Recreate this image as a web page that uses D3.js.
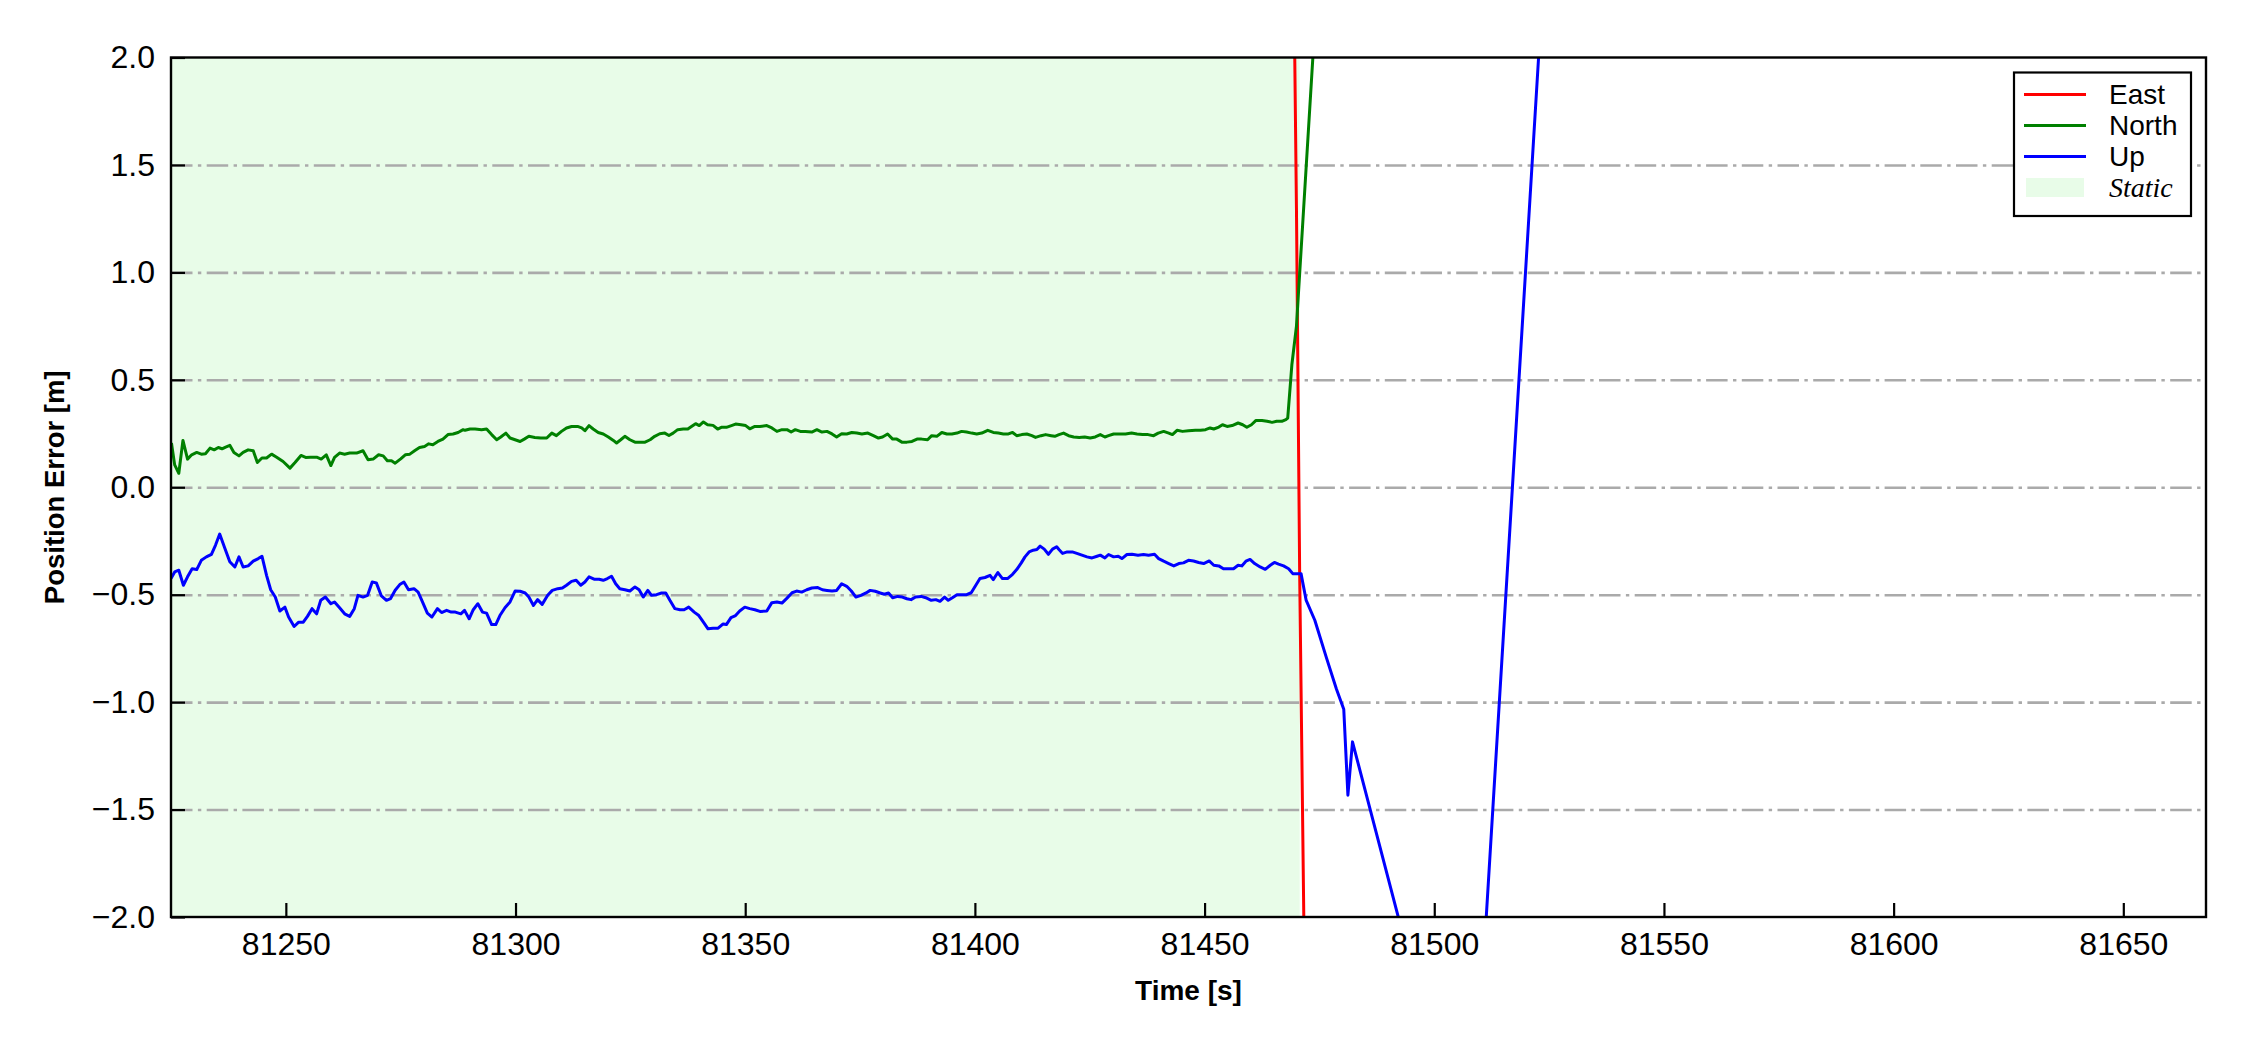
<!DOCTYPE html>
<html>
<head>
<meta charset="utf-8">
<script src="https://cdn.jsdelivr.net/npm/d3@7"></script>
<style>
  html, body { margin: 0; padding: 0; background: #ffffff; }
  svg { display: block; }
</style>
</head>
<body>
<svg id="chart" width="2250" height="1050"></svg>
<script>
// ---------------- DATA ----------------
const xDomain = [81225, 81668];
const yDomain = [-2.0, 2.0];
const xTicks = [81250, 81300, 81350, 81400, 81450, 81500, 81550, 81600, 81650];
const yTicks = [-2.0, -1.5, -1.0, -0.5, 0.0, 0.5, 1.0, 1.5, 2.0];
const staticSpan = [81225, 81470.7];
const legendLabels = ["East", "North", "Up", "Static"];

const eastData = [
  [81469.0, 3.2], [81470.0, 1.3], [81470.7, -0.4], [81471.6, -2.0], [81472.5, -3.8]
];

const northData = [
  [81225.1,0.206],[81225.8,0.104],[81226.7,0.065],[81227.6,0.218],[81228.6,0.131],[81229.5,0.151],
  [81230.6,0.162],[81231.6,0.154],[81232.5,0.156],[81233.5,0.182],[81234.4,0.174],[81235.3,0.185],
  [81236.1,0.179],[81236.9,0.187],[81237.8,0.195],[81238.7,0.162],[81239.8,0.146],[81240.7,0.162],
  [81241.8,0.174],[81242.9,0.170],[81243.8,0.115],[81244.8,0.136],[81245.8,0.136],[81246.9,0.154],
  [81248.0,0.140],[81249.4,0.120],[81250.9,0.089],[81252.0,0.115],[81253.3,0.148],[81254.3,0.139],
  [81255.4,0.140],[81256.7,0.140],[81257.7,0.131],[81258.8,0.151],[81259.8,0.101],[81260.6,0.139],
  [81261.7,0.159],[81262.8,0.154],[81263.9,0.159],[81265.4,0.159],[81266.8,0.170],[81267.9,0.128],
  [81269.0,0.131],[81270.2,0.151],[81271.2,0.146],[81272.1,0.123],[81273.0,0.123],[81273.8,0.112],
  [81275.0,0.132],[81276.0,0.151],[81277.0,0.154],[81278.1,0.171],[81279.1,0.185],[81280.2,0.190],
  [81281.1,0.202],[81282.0,0.198],[81283.1,0.213],[81284.2,0.224],[81285.3,0.245],[81286.4,0.248],
  [81287.5,0.255],[81288.6,0.268],[81289.0,0.265],[81290.1,0.271],[81291.2,0.271],[81292.6,0.268],
  [81293.7,0.271],[81294.8,0.245],[81295.9,0.221],[81296.8,0.234],[81297.9,0.252],[81298.8,0.229],
  [81299.9,0.221],[81301.0,0.213],[81301.9,0.224],[81302.9,0.237],[81304.2,0.232],[81305.5,0.229],
  [81306.8,0.229],[81307.9,0.252],[81308.9,0.240],[81310.0,0.260],[81311.1,0.276],[81312.2,0.283],
  [81313.5,0.283],[81314.4,0.276],[81315.1,0.263],[81316.0,0.287],[81316.9,0.271],[81318.0,0.255],
  [81319.1,0.248],[81320.2,0.234],[81321.3,0.218],[81322.0,0.206],[81322.9,0.221],[81323.8,0.237],
  [81324.9,0.221],[81326.0,0.210],[81327.1,0.210],[81328.2,0.210],[81329.3,0.221],[81330.3,0.237],
  [81331.4,0.249],[81332.5,0.252],[81333.4,0.241],[81334.3,0.252],[81335.3,0.268],[81336.5,0.271],
  [81337.5,0.271],[81338.3,0.283],[81339.2,0.296],[81340.0,0.287],[81340.9,0.304],[81341.8,0.291],
  [81343.0,0.288],[81344.0,0.271],[81344.8,0.279],[81345.9,0.279],[81347.0,0.287],[81347.9,0.294],
  [81349.1,0.291],[81350.1,0.287],[81351.0,0.272],[81352.1,0.283],[81353.2,0.283],[81354.7,0.287],
  [81355.8,0.276],[81356.9,0.260],[81358.0,0.268],[81359.1,0.268],[81360.0,0.257],[81360.9,0.268],
  [81362.0,0.260],[81363.1,0.260],[81364.5,0.257],[81365.6,0.268],[81366.7,0.257],[81367.8,0.260],
  [81368.9,0.248],[81369.9,0.234],[81371.0,0.249],[81372.1,0.248],[81373.2,0.255],[81374.3,0.252],
  [81375.4,0.248],[81376.7,0.252],[81377.9,0.240],[81379.0,0.229],[81379.9,0.234],[81381.0,0.248],
  [81382.1,0.224],[81383.0,0.224],[81384.1,0.210],[81385.2,0.210],[81386.3,0.213],[81387.4,0.224],
  [81388.4,0.224],[81389.7,0.221],[81390.6,0.240],[81391.7,0.237],[81392.8,0.255],[81393.9,0.248],
  [81395.0,0.248],[81396.1,0.252],[81397.1,0.260],[81398.2,0.257],[81399.3,0.252],[81400.4,0.248],
  [81401.5,0.252],[81402.8,0.265],[81404.0,0.255],[81405.1,0.252],[81406.2,0.248],[81407.3,0.248],
  [81408.2,0.255],[81409.1,0.240],[81410.2,0.245],[81411.3,0.248],[81412.4,0.240],[81413.2,0.232],
  [81414.4,0.240],[81415.4,0.245],[81416.6,0.240],[81417.4,0.237],[81418.3,0.245],[81419.3,0.252],
  [81420.4,0.240],[81421.5,0.234],[81422.7,0.232],[81423.9,0.234],[81425.1,0.229],[81426.2,0.234],
  [81427.3,0.245],[81428.3,0.234],[81429.1,0.240],[81430.2,0.248],[81431.3,0.248],[81432.8,0.248],
  [81434.1,0.252],[81435.3,0.248],[81436.5,0.245],[81437.7,0.245],[81438.9,0.240],[81439.9,0.252],
  [81441.1,0.260],[81442.2,0.252],[81443.0,0.245],[81444.0,0.265],[81445.2,0.260],[81446.5,0.263],
  [81448.0,0.265],[81449.1,0.265],[81450.2,0.268],[81451.2,0.276],[81452.0,0.271],[81453.1,0.280],
  [81453.9,0.291],[81454.9,0.283],[81456.0,0.287],[81457.3,0.299],[81458.3,0.291],[81459.2,0.279],
  [81460.2,0.291],[81461.2,0.311],[81462.5,0.311],[81463.6,0.307],[81464.7,0.302],[81465.7,0.307],
  [81466.8,0.307],[81467.7,0.315],[81468.1,0.322],[81469.0,0.570],[81470.0,0.750],[81476.0,2.850]
];

const upData = [
  [81225.0,-0.425],[81225.8,-0.394],[81226.7,-0.386],[81227.7,-0.456],[81228.6,-0.417],[81229.6,-0.379],
  [81230.6,-0.383],[81231.6,-0.340],[81232.7,-0.324],[81233.8,-0.312],[81234.7,-0.269],[81235.6,-0.218],
  [81236.6,-0.277],[81237.8,-0.347],[81238.9,-0.371],[81239.8,-0.324],[81240.7,-0.371],[81241.8,-0.366],
  [81242.9,-0.344],[81244.0,-0.332],[81244.8,-0.321],[81245.8,-0.410],[81246.7,-0.477],[81247.7,-0.511],
  [81248.7,-0.576],[81249.8,-0.558],[81250.6,-0.604],[81251.8,-0.648],[81252.8,-0.628],[81253.8,-0.628],
  [81254.7,-0.601],[81255.7,-0.565],[81256.7,-0.589],[81257.6,-0.526],[81258.6,-0.511],[81259.8,-0.542],
  [81260.6,-0.534],[81261.7,-0.561],[81262.8,-0.589],[81263.9,-0.601],[81264.9,-0.565],[81265.7,-0.503],
  [81266.8,-0.511],[81267.8,-0.503],[81268.8,-0.441],[81269.7,-0.445],[81270.8,-0.506],[81271.9,-0.526],
  [81272.8,-0.518],[81273.8,-0.479],[81274.8,-0.453],[81275.7,-0.441],[81276.7,-0.477],[81277.9,-0.472],
  [81278.8,-0.488],[81279.6,-0.526],[81280.8,-0.586],[81281.8,-0.604],[81283.0,-0.565],[81283.9,-0.583],
  [81285.0,-0.573],[81286.0,-0.581],[81286.9,-0.581],[81288.1,-0.589],[81288.9,-0.573],[81289.9,-0.612],
  [81290.8,-0.570],[81291.8,-0.542],[81292.8,-0.581],[81293.7,-0.586],[81294.8,-0.639],[81295.7,-0.639],
  [81296.6,-0.597],[81297.7,-0.561],[81298.8,-0.534],[81299.9,-0.483],[81301.0,-0.484],[81302.1,-0.492],
  [81302.9,-0.511],[81303.9,-0.550],[81304.8,-0.523],[81305.8,-0.545],[81307.0,-0.503],[81308.0,-0.480],
  [81309.2,-0.472],[81310.2,-0.469],[81311.1,-0.456],[81312.2,-0.438],[81313.2,-0.433],[81314.2,-0.456],
  [81315.1,-0.441],[81316.0,-0.417],[81317.1,-0.428],[81318.2,-0.428],[81319.1,-0.433],[81320.0,-0.425],
  [81320.9,-0.414],[81321.8,-0.449],[81322.7,-0.472],[81323.8,-0.477],[81324.9,-0.483],[81326.0,-0.464],
  [81326.9,-0.477],[81327.8,-0.511],[81328.8,-0.480],[81329.6,-0.503],[81330.7,-0.500],[81331.8,-0.492],
  [81332.7,-0.492],[81333.6,-0.526],[81334.7,-0.565],[81335.8,-0.570],[81336.7,-0.570],[81337.7,-0.558],
  [81338.9,-0.581],[81339.9,-0.597],[81340.9,-0.628],[81341.9,-0.659],[81343.0,-0.656],[81344.1,-0.656],
  [81345.2,-0.636],[81345.9,-0.639],[81346.9,-0.607],[81347.9,-0.597],[81348.8,-0.576],[81349.9,-0.558],
  [81351.0,-0.565],[81352.1,-0.570],[81353.2,-0.578],[81354.7,-0.576],[81355.8,-0.537],[81356.9,-0.534],
  [81358.0,-0.539],[81359.1,-0.516],[81360.2,-0.491],[81361.2,-0.483],[81362.3,-0.488],[81363.4,-0.477],
  [81364.5,-0.469],[81365.8,-0.467],[81366.8,-0.477],[81367.8,-0.480],[81368.9,-0.483],[81369.9,-0.480],
  [81371.0,-0.449],[81372.1,-0.461],[81373.1,-0.483],[81374.1,-0.511],[81375.2,-0.503],[81376.3,-0.492],
  [81377.2,-0.480],[81378.3,-0.484],[81379.4,-0.492],[81380.3,-0.498],[81381.2,-0.492],[81382.1,-0.514],
  [81383.2,-0.508],[81384.2,-0.511],[81385.2,-0.519],[81386.1,-0.523],[81387.1,-0.511],[81388.3,-0.508],
  [81389.3,-0.514],[81390.5,-0.526],[81391.5,-0.523],[81392.4,-0.531],[81393.4,-0.511],[81394.2,-0.526],
  [81395.1,-0.514],[81396.1,-0.500],[81397.1,-0.500],[81398.2,-0.500],[81399.2,-0.491],[81400.2,-0.456],
  [81401.1,-0.425],[81402.2,-0.420],[81403.3,-0.410],[81404.0,-0.430],[81405.0,-0.397],[81406.0,-0.425],
  [81407.1,-0.425],[81408.2,-0.405],[81409.1,-0.383],[81410.1,-0.352],[81410.9,-0.324],[81411.8,-0.301],
  [81412.7,-0.293],[81413.5,-0.290],[81414.2,-0.274],[81415.1,-0.288],[81416.0,-0.312],[81416.9,-0.288],
  [81417.8,-0.277],[81418.3,-0.290],[81419.1,-0.308],[81420.1,-0.301],[81421.2,-0.301],[81422.2,-0.308],
  [81423.3,-0.316],[81424.4,-0.324],[81425.5,-0.329],[81426.6,-0.321],[81427.3,-0.316],[81428.3,-0.329],
  [81429.1,-0.313],[81430.2,-0.324],[81431.2,-0.321],[81432.0,-0.332],[81433.1,-0.313],[81434.2,-0.312],
  [81435.5,-0.316],[81436.7,-0.313],[81437.8,-0.316],[81439.1,-0.312],[81440.0,-0.332],[81441.1,-0.344],
  [81442.2,-0.355],[81443.3,-0.366],[81444.4,-0.355],[81445.4,-0.352],[81446.5,-0.340],[81447.6,-0.343],
  [81448.7,-0.350],[81449.8,-0.355],[81451.0,-0.343],[81452.0,-0.363],[81453.1,-0.366],[81454.1,-0.379],
  [81455.2,-0.379],[81456.3,-0.379],[81457.3,-0.363],[81458.1,-0.366],[81459.0,-0.344],[81459.9,-0.336],
  [81460.9,-0.355],[81462.1,-0.371],[81463.2,-0.382],[81464.3,-0.363],[81465.2,-0.350],[81466.1,-0.358],
  [81467.2,-0.366],[81468.3,-0.379],[81469.2,-0.402],[81470.1,-0.402],[81471.0,-0.402],[81472.1,-0.525],
  [81474.0,-0.619],[81476.5,-0.792],[81478.7,-0.939],[81480.3,-1.033],[81481.2,-1.433],[81482.2,-1.185],
  [81507.7,-3.270],[81530.0,4.560]
];

// ---------------- LAYOUT ----------------
const W = 2250, H = 1050;
const plot = { left: 171, right: 2206, top: 57.5, bottom: 917 };
const colors = { East: "#ff0000", North: "#008000", Up: "#0000ff", Static: "#e8fce8" };
const fontSans = "'Liberation Sans', Arial, Helvetica, sans-serif";
const fontSerif = "'Liberation Serif', 'Times New Roman', serif";

const svg = d3.select("#chart");
const x = d3.scaleLinear().domain(xDomain).range([plot.left, plot.right]);
const y = d3.scaleLinear().domain(yDomain).range([plot.bottom, plot.top]);

svg.append("defs").append("clipPath").attr("id", "clip")
  .append("rect")
  .attr("x", plot.left).attr("y", plot.top)
  .attr("width", plot.right - plot.left).attr("height", plot.bottom - plot.top);

// Static shading
svg.append("rect")
  .attr("x", x(staticSpan[0]))
  .attr("y", plot.top)
  .attr("width", x(staticSpan[1]) - x(staticSpan[0]))
  .attr("height", plot.bottom - plot.top)
  .attr("fill", colors.Static);

// Horizontal grid lines (dash-dot)
const gridAxis = d3.axisLeft(y).tickValues(yTicks.filter(v => v > yDomain[0] && v < yDomain[1]))
  .tickSize(-(plot.right - plot.left)).tickFormat("");
const grid = svg.append("g").attr("transform", `translate(${plot.left},0)`).call(gridAxis);
grid.select(".domain").remove();
grid.selectAll("line")
  .attr("stroke", "#aaaaaa")
  .attr("stroke-width", 2.6)
  .attr("stroke-dasharray", "21.5,5.4,3.4,5.4");

// Lines
const line = d3.line().x(d => x(d[0])).y(d => y(d[1]));
const lines = svg.append("g").attr("clip-path", "url(#clip)");
[[eastData, colors.East], [northData, colors.North], [upData, colors.Up]].forEach(([data, c]) => {
  lines.append("path")
    .datum(data)
    .attr("d", line)
    .attr("fill", "none")
    .attr("stroke", c)
    .attr("stroke-width", 3)
    .attr("stroke-linejoin", "round");
});

// Axes (ticks inward)
const fmtY = d3.format(".1f");
const xAxis = d3.axisBottom(x).tickValues(xTicks).tickFormat(d3.format("d"))
  .tickSizeInner(-14).tickSizeOuter(0).tickPadding(15);
const gx = svg.append("g").attr("transform", `translate(0,${plot.bottom})`).call(xAxis);
gx.select(".domain").remove();
gx.selectAll("line").attr("stroke", "#000").attr("stroke-width", 2.2);
gx.selectAll("text").attr("font-family", fontSans).attr("font-size", 32).attr("fill", "#000");

const yAxis = d3.axisLeft(y).tickValues(yTicks).tickFormat(fmtY)
  .tickSizeInner(-14).tickSizeOuter(0).tickPadding(16);
const gy = svg.append("g").attr("transform", `translate(${plot.left},0)`).call(yAxis);
gy.select(".domain").remove();
gy.selectAll("line").attr("stroke", "#000").attr("stroke-width", 2.2);
gy.selectAll("text").attr("font-family", fontSans).attr("font-size", 32).attr("fill", "#000");

// Frame
svg.append("rect")
  .attr("x", plot.left).attr("y", plot.top)
  .attr("width", plot.right - plot.left).attr("height", plot.bottom - plot.top)
  .attr("fill", "none").attr("stroke", "#000").attr("stroke-width", 2.4);

// Axis labels
svg.append("text")
  .attr("x", (plot.left + plot.right) / 2).attr("y", 1000)
  .attr("text-anchor", "middle")
  .attr("font-family", fontSans).attr("font-size", 28).attr("font-weight", "bold")
  .text("Time [s]");

svg.append("text")
  .attr("transform", `translate(64,${(plot.top + plot.bottom) / 2}) rotate(-90)`)
  .attr("text-anchor", "middle")
  .attr("font-family", fontSans).attr("font-size", 27.5).attr("font-weight", "bold")
  .text("Position Error [m]");

// Legend
const lg = svg.append("g");
lg.append("rect")
  .attr("x", 2014).attr("y", 72.5).attr("width", 177).attr("height", 143.5)
  .attr("fill", "#fff").attr("stroke", "#000").attr("stroke-width", 2.2);
const rowY = [94.5, 125.5, 156.5, 187.5];
legendLabels.forEach((name, i) => {
  if (name === "Static") {
    lg.append("rect").attr("x", 2026).attr("y", rowY[i] - 9.5).attr("width", 58).attr("height", 19)
      .attr("fill", colors.Static);
  } else {
    lg.append("line").attr("x1", 2024).attr("x2", 2086).attr("y1", rowY[i]).attr("y2", rowY[i])
      .attr("stroke", colors[name]).attr("stroke-width", 3);
  }
  lg.append("text")
    .attr("x", 2109).attr("y", rowY[i])
    .attr("dominant-baseline", "central")
    .attr("font-family", name === "Static" ? fontSerif : fontSans)
    .attr("font-style", name === "Static" ? "italic" : "normal")
    .attr("font-size", 28)
    .text(name);
});
</script>
</body>
</html>
